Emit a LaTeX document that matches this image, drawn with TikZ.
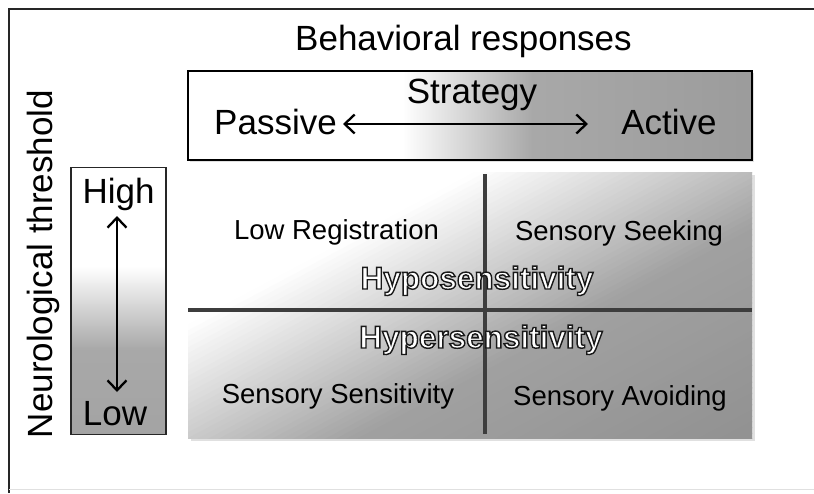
\documentclass[tikz,border=0pt]{standalone}
\usepackage{fontspec}
\setmainfont{Liberation Sans}
\usetikzlibrary{arrows.meta,shadows}
\definecolor{gA}{gray}{0.66}
\definecolor{gB}{gray}{0.61}
\definecolor{lineC}{gray}{0.24}
\pgfdeclarehorizontalshading{stratshade}{100bp}{color(0bp)=(white); color(44bp)=(white); color(55.5bp)=(gA); color(75bp)=(gB); color(100bp)=(gB)}
\pgfdeclareverticalshading{thrshade}{100bp}{color(0bp)=(gB); color(41bp)=(gA); color(56.5bp)=(white); color(100bp)=(white)}
\newcommand\outlinetxt[1]{\textcolor{white}{\special{pdf:literal 0.1 G 2 Tr 1.4 w}#1\special{pdf:literal 0 Tr}}}
\tikzset{
  big/.style={inner sep=0pt, anchor=base, font=\fontsize{35}{40}\selectfont},
  mid/.style={inner sep=0pt, anchor=base, font=\fontsize{27.5}{32}\selectfont},
  outl/.style={inner sep=0pt, anchor=base, font=\bfseries\fontsize{31.5}{36}\selectfont},
  dbl/.style={line width=2.3pt, {Straight Barb[length=10pt,width=19pt]}-{Straight Barb[length=10pt,width=19pt]}},
  qline/.style={line width=3.4pt, draw=lineC},
  frame/.style={line width=2pt, draw=black!85},
  softshadow/.style={drop shadow={shadow xshift=1.5pt, shadow yshift=-2pt, fill=black, opacity=0.12}}
}
\begin{document}
\begin{tikzpicture}[x=1pt,y=-1pt]
\useasboundingbox (0,0) rectangle (814,493);
% outer frame
\draw[frame] (9,493) -- (9,8.5) -- (814,8.5);
\draw[black!12, line width=1pt] (9,489) -- (814,489);
% title
\node[big] (title) at (463.5,50) {Behavioral responses};
% strategy box
\node[draw=black, line width=2pt, shade, shading=stratshade, softshadow, minimum width=564pt, minimum height=89pt, inner sep=0pt] (strat) at (470,115.5) {};
\node[big] (stratlbl) at (472,103) {Strategy};
\node[big] (pas) at (275.5,134) {Passive};
\node[big] (act) at (669,134) {Active};
\coordinate (aL) at (343,124);
\coordinate (aR) at (588,124);
\draw[dbl] (aL) -- (aR);
% quadrant box: shadow and diagonal gradient
\fill[black, opacity=0.12] (190.5,175) rectangle (754.5,441);
\begin{scope}
\clip (188,172) rectangle (752,438);
\foreach \i in {0,...,100}{
  \pgfmathsetmacro\ua{5*\i}
  \pgfmathsetmacro\ub{5*\i+6}
  \pgfmathsetmacro\um{5*\i+2.5}
  \pgfmathsetmacro\gv{\um<135 ? 1 : (\um<315 ? 1-0.37*(\um-135)/180 : 0.63-0.06*(\um-315)/185)}
  \definecolor{stripc}{gray}{\gv}
  \pgfmathsetmacro\xa{188+0.4695*\ua}
  \pgfmathsetmacro\ya{172+0.8829*\ua}
  \pgfmathsetmacro\xb{188+0.4695*\ub}
  \pgfmathsetmacro\yb{172+0.8829*\ub}
  \fill[stripc] (\xa+618,\ya-328.7) -- (\xa-618,\ya+328.7) -- (\xb-618,\yb+328.7) -- (\xb+618,\yb-328.7) -- cycle;
}
\end{scope}
\coordinate (vT) at (485,174);
\coordinate (vB) at (485,434);
\coordinate (hL) at (188,310);
\coordinate (hR) at (752,310);
\draw[qline] (vT) -- (vB);
\draw[qline] (hL) -- (hR);
\node[mid] (lowreg) at (336.5,239) {Low Registration};
\node[mid] (seek) at (619,240) {Sensory Seeking};
\node[mid] (sens) at (338,403) {Sensory Sensitivity};
\node[mid] (avoid) at (620,405) {Sensory Avoiding};
\node[outl] (hypo) at (477,289) {\outlinetxt{Hyposensitivity}};
\node[outl] (hyper) at (481,348) {\outlinetxt{Hypersensitivity}};
% threshold box
\node[draw=black!85, line width=1.6pt, shade, shading=thrshade, minimum width=95pt, minimum height=267pt, inner sep=0pt] (thr) at (118.5,301) {};
\node[big] (high) at (118.5,203) {High};
\node[big] (low) at (115,425) {Low};
\coordinate (tT) at (117,216);
\coordinate (tB) at (117,392);
\draw[dbl] (tT) -- (tB);
\node[big, rotate=90] (neuro) at (52,264) {Neurological threshold};
\end{tikzpicture}
\end{document}
